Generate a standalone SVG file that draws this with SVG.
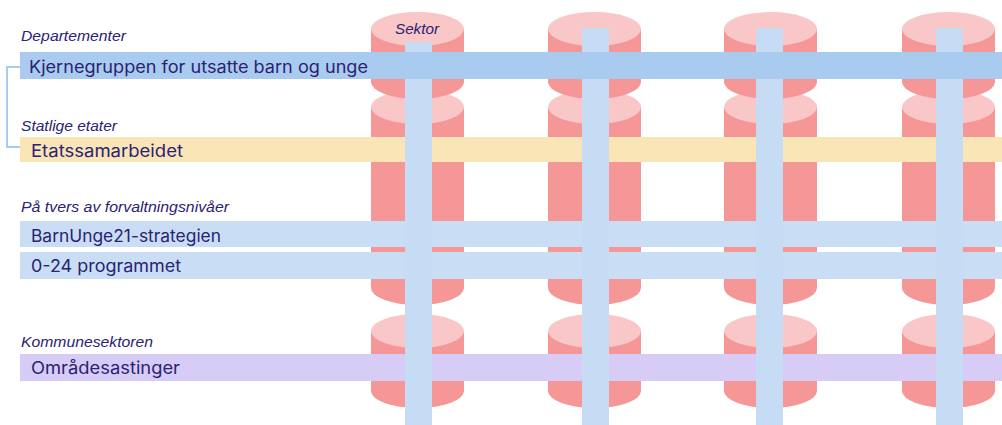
<svg xmlns="http://www.w3.org/2000/svg" width="1002" height="425" viewBox="0 0 1002 425">
<defs>
<style>
.body{fill:#f69797}
.top{fill:#f9c7c7}
.vbar{fill:#c6dcf4}
.cat{font-family:"Liberation Sans",Arial,sans-serif;font-style:italic;font-size:14px;fill:#2b2272}
.lbl{font-family:Inter,"Liberation Sans",sans-serif;font-size:17px;font-weight:400;fill:#2b2272}
.conn{fill:none;stroke:#8fbde9;stroke-width:1.5}
</style>
</defs>
<rect width="1002" height="425" fill="#ffffff"/>

<g id="sectors">
<g id="sektor-1">
<path class="body" d="M371,331 v60 a46.5,17 0 0 0 93,0 v-60 z"/><ellipse class="top" cx="417.5" cy="331" rx="46.5" ry="17"/>
<path class="body" d="M371,107 v181 a46.5,17 0 0 0 93,0 v-181 z"/><ellipse class="top" cx="417.5" cy="107" rx="46.5" ry="17"/>
<path class="body" d="M371,29 v53 a46.5,17 0 0 0 93,0 v-53 z"/><ellipse class="top" cx="417.5" cy="29" rx="46.5" ry="17"/>
</g>
<g id="sektor-2">
<path class="body" d="M548,331 v60 a46.5,17 0 0 0 93,0 v-60 z"/><ellipse class="top" cx="594.5" cy="331" rx="46.5" ry="17"/>
<path class="body" d="M548,107 v181 a46.5,17 0 0 0 93,0 v-181 z"/><ellipse class="top" cx="594.5" cy="107" rx="46.5" ry="17"/>
<path class="body" d="M548,29 v53 a46.5,17 0 0 0 93,0 v-53 z"/><ellipse class="top" cx="594.5" cy="29" rx="46.5" ry="17"/>
</g>
<g id="sektor-3">
<path class="body" d="M724,331 v60 a46.5,17 0 0 0 93,0 v-60 z"/><ellipse class="top" cx="770.5" cy="331" rx="46.5" ry="17"/>
<path class="body" d="M724,107 v181 a46.5,17 0 0 0 93,0 v-181 z"/><ellipse class="top" cx="770.5" cy="107" rx="46.5" ry="17"/>
<path class="body" d="M724,29 v53 a46.5,17 0 0 0 93,0 v-53 z"/><ellipse class="top" cx="770.5" cy="29" rx="46.5" ry="17"/>
</g>
<g id="sektor-4">
<path class="body" d="M902,331 v60 a46.5,17 0 0 0 93,0 v-60 z"/><ellipse class="top" cx="948.5" cy="331" rx="46.5" ry="17"/>
<path class="body" d="M902,107 v181 a46.5,17 0 0 0 93,0 v-181 z"/><ellipse class="top" cx="948.5" cy="107" rx="46.5" ry="17"/>
<path class="body" d="M902,29 v53 a46.5,17 0 0 0 93,0 v-53 z"/><ellipse class="top" cx="948.5" cy="29" rx="46.5" ry="17"/>
</g>
</g>

<g id="etatssamarbeidet">
<rect x="20" y="137" width="982" height="25" fill="#fae5b7"/>
<text class="lbl" x="31" y="157" textLength="152" lengthAdjust="spacingAndGlyphs">Etatssamarbeidet</text>
</g>
<g id="barnunge21">
<rect x="20" y="221" width="982" height="26" fill="#c9def4"/>
<text class="lbl" x="31" y="242" textLength="190" lengthAdjust="spacingAndGlyphs">BarnUnge21-strategien</text>
</g>
<g id="program-0-24">
<rect x="20" y="252" width="982" height="27" fill="#c9def4"/>
<text class="lbl" x="31" y="272" textLength="150" lengthAdjust="spacingAndGlyphs">0-24 programmet</text>
</g>
<g id="omradesatsinger">
<rect x="20" y="354" width="982" height="27" fill="#d6ccf6"/>
<text class="lbl" x="31" y="374" textLength="149" lengthAdjust="spacingAndGlyphs">Områdesastinger</text>
</g>

<g id="sektor-bars">
<rect class="vbar" x="405" y="42" width="27" height="383"/>
<rect class="vbar" x="582" y="28" width="27" height="397"/>
<rect class="vbar" x="756" y="28" width="27" height="397"/>
<rect class="vbar" x="936" y="28" width="27" height="397"/>
</g>

<g id="kjernegruppen">
<rect x="20" y="52" width="982" height="27" fill="#a9cbf0"/>
<text class="lbl" x="29" y="73" textLength="339" lengthAdjust="spacingAndGlyphs">Kjernegruppen for utsatte barn og unge</text>
</g>

<g id="connectors">
<path class="conn" d="M20,67 H7 V147 H20"/>
</g>

<g id="labels">
<text class="cat" x="395" y="34" textLength="44" lengthAdjust="spacingAndGlyphs">Sektor</text>
<text class="cat" x="21" y="41" textLength="105" lengthAdjust="spacingAndGlyphs">Departementer</text>
<text class="cat" x="21" y="131" textLength="96" lengthAdjust="spacingAndGlyphs">Statlige etater</text>
<text class="cat" x="21" y="212" textLength="208" lengthAdjust="spacingAndGlyphs">På tvers av forvaltningsnivåer</text>
<text class="cat" x="21" y="347" textLength="132" lengthAdjust="spacingAndGlyphs">Kommunesektoren</text>
</g>
</svg>
